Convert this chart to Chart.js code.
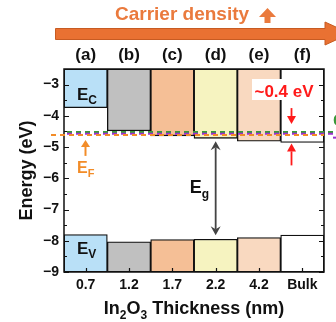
<!DOCTYPE html>
<html>
<head>
<meta charset="utf-8">
<script src="https://cdn.jsdelivr.net/npm/chart.js@4.4.1/dist/chart.umd.min.js"></script>
<style>
  html, body { margin: 0; padding: 0; background: #fff; }
  #wrap { width: 336px; height: 322px; }
</style>
</head>
<body>
<div id="wrap"><canvas id="band-chart" width="336" height="322"></canvas></div>
<script>
// Зонна діаграма In2O3 для різних товщин

const thickness = ['0.7', '1.2', '1.7', '2.2', '4.2', 'Bulk'];
const panelLabels = ['(a)', '(b)', '(c)', '(d)', '(e)', '(f)'];
const conductionMin = [-3.74, -4.48, -4.64, -4.72, -4.81, -4.85];
const valenceMax = [-7.80, -8.03, -7.96, -7.95, -7.90, -7.82];
const fermiLevel = -4.61;
const greenLevel = -4.52;
const purpleLevel = -4.57;
const energyMin = -9;
const energyMax = -2.5;
const barColors = ['#b9e0f7', '#c0c0c0', '#f5bf96', '#f6f3c0', '#f9d9c0', '#ffffff'];

const FONT = "'Liberation Sans', Arial, sans-serif";
const ORANGE = '#e97132';

// текст з нижніми індексами: parts = [[текст, isSub], ...]
function richText(ctx, parts, x, y, size, color, align) {
    const subSize = Math.round(size * 0.68);
    let total = 0;
    const widths = parts.map(([t, sub]) => {
        ctx.font = `bold ${sub ? subSize : size}px ${FONT}`;
        const w = ctx.measureText(t).width;
        total += w;
        return w;
    });
    let cx = align === 'center' ? x - total / 2 : x;
    ctx.fillStyle = color;
    ctx.textAlign = 'left';
    ctx.textBaseline = 'alphabetic';
    parts.forEach(([t, sub], i) => {
        ctx.font = `bold ${sub ? subSize : size}px ${FONT}`;
        ctx.fillText(t, cx, sub ? y + size * 0.28 : y);
        cx += widths[i];
    });
}

// вертикальна стрілка з заповненою головою
function vArrow(ctx, x, yTail, yTip, headLen, headW, stemW, color, notch) {
    const dir = yTip < yTail ? 1 : -1; // 1 = вгору
    const base = yTip + dir * headLen;
    const inner = yTip + dir * headLen * (notch ? 0.65 : 1);
    ctx.save();
    ctx.strokeStyle = color;
    ctx.fillStyle = color;
    ctx.lineWidth = stemW;
    ctx.beginPath();
    ctx.moveTo(x, yTail);
    ctx.lineTo(x, inner);
    ctx.stroke();
    ctx.beginPath();
    ctx.moveTo(x, yTip);
    ctx.lineTo(x - headW / 2, base);
    ctx.lineTo(x, inner);
    ctx.lineTo(x + headW / 2, base);
    ctx.closePath();
    ctx.fill();
    ctx.restore();
}

const decorPlugin = {
    id: 'decor',
    afterDatasetsDraw(chart) {
        const {ctx, chartArea: a, scales: {x, y}} = chart;
        ctx.save();

        // рамка і внутрішні поділки
        ctx.strokeStyle = '#111';
        ctx.lineWidth = 1.5;
        ctx.strokeRect(a.left, a.top, a.right - a.left, a.bottom - a.top);
        ctx.lineWidth = 1.2;
        for (let v = energyMin; v <= energyMax + 1e-6; v += 0.5) {
            const py = Math.round(y.getPixelForValue(v)) + 0.5;
            const len = Number.isInteger(v) ? 5 : 3;
            ctx.beginPath();
            ctx.moveTo(a.left, py); ctx.lineTo(a.left + len, py);
            ctx.moveTo(a.right, py); ctx.lineTo(a.right - len, py);
            ctx.stroke();
        }
        thickness.forEach((_, i) => {
            const px = Math.round(x.getPixelForValue(i)) + 0.5;
            ctx.beginPath();
            ctx.moveTo(px, a.bottom); ctx.lineTo(px, a.bottom - 4);
            ctx.stroke();
        });

        // пунктирні рівні
        const dashLine = (val, color, x0, x1, offset) => {
            ctx.save();
            ctx.strokeStyle = color;
            ctx.lineWidth = 2;
            ctx.setLineDash([5, 4]);
            ctx.lineDashOffset = offset;
            ctx.beginPath();
            ctx.moveTo(x0, y.getPixelForValue(val));
            ctx.lineTo(x1, y.getPixelForValue(val));
            ctx.stroke();
            ctx.restore();
        };
        dashLine(greenLevel, '#3a983a', a.left + 3, chart.width, 0);
        dashLine(purpleLevel, '#9b30d0', a.left + 3, chart.width, 0);
        dashLine(fermiLevel, '#f28c28', a.left - 13, a.right, 0);

        // обрізані підписи праворуч
        ctx.font = `bold 17px ${FONT}`;
        ctx.textAlign = 'left';
        ctx.fillStyle = '#3a983a';
        ctx.fillText('G', a.right + 9, y.getPixelForValue(greenLevel) - 6);
        ctx.fillStyle = '#9b30d0';
        ctx.fillRect(a.right + 9, y.getPixelForValue(purpleLevel) + 3, 4, 2);

        // E_C, E_V
        richText(ctx, [['E', 0], ['C', 1]], a.left + 13, y.getPixelForValue(conductionMin[0]) - 8, 17, '#111');
        richText(ctx, [['E', 0], ['V', 1]], a.left + 13, y.getPixelForValue(valenceMax[0]) + 19, 17, '#111');

        // E_F зі стрілкою
        const yF = y.getPixelForValue(fermiLevel);
        vArrow(ctx, a.left + 21.5, yF + 21, yF + 5, 7, 9, 2, '#f28c28', false);
        richText(ctx, [['E', 0], ['F', 1]], a.left + 13, yF + 38, 16, '#f28c28');

        // E_g стрілка для (d)
        const xd = x.getPixelForValue(3);
        const yTop = y.getPixelForValue(conductionMin[3]) + 3;
        const yBot = y.getPixelForValue(valenceMax[3]) - 4;
        vArrow(ctx, xd, yTop + 6, yTop, 9, 10, 1.8, '#444', true);
        vArrow(ctx, xd, yTop + 6, yBot, 9, 10, 1.8, '#444', true);
        richText(ctx, [['E', 0], ['g', 1]], xd - 26, (yTop + yBot) / 2 + 5, 18, '#111');

        // ~0.4 eV
        ctx.fillStyle = '#fff';
        ctx.fillRect(a.left + 188, a.top + 10, 64, 21);
        ctx.font = `bold 17px ${FONT}`;
        ctx.textAlign = 'center';
        ctx.fillStyle = '#ff1a1a';
        ctx.fillText('~0.4 eV', a.left + 220, a.top + 28);
        const xr = a.left + 227.5;
        const yG = y.getPixelForValue(greenLevel);
        vArrow(ctx, xr, yG - 24, yG - 8, 8, 9, 1.8, '#ff1a1a', false);
        const yFb = y.getPixelForValue(conductionMin[5]);
        vArrow(ctx, xr, yFb + 23, yFb + 1, 8, 9, 1.8, '#ff1a1a', false);

        // підписи панелей зверху
        ctx.font = `bold 17px ${FONT}`;
        ctx.fillStyle = '#111';
        ctx.textAlign = 'center';
        ctx.textBaseline = 'middle';
        panelLabels.forEach((t, i) => ctx.fillText(t, x.getPixelForValue(i), 55));

        // велика стрілка "Carrier density"
        ctx.fillStyle = ORANGE;
        ctx.strokeStyle = '#c75b22';
        ctx.lineWidth = 1;
        ctx.beginPath();
        ctx.moveTo(55.5, 28.5);
        ctx.lineTo(325, 28.5);
        ctx.lineTo(325, 22);
        ctx.lineTo(350, 33.5);
        ctx.lineTo(325, 45);
        ctx.lineTo(325, 39.5);
        ctx.lineTo(55.5, 39.5);
        ctx.closePath();
        ctx.fill();
        ctx.stroke();

        ctx.textAlign = 'left';
        ctx.textBaseline = 'alphabetic';
        ctx.font = `bold 19px ${FONT}`;
        ctx.fillStyle = '#ea7a3d';
        ctx.fillText('Carrier density', 115, 20);
        // маленька стрілка вгору після тексту
        ctx.beginPath();
        ctx.moveTo(267.5, 8);
        ctx.lineTo(276, 17);
        ctx.lineTo(270.5, 17);
        ctx.lineTo(270.5, 23);
        ctx.lineTo(264.5, 23);
        ctx.lineTo(264.5, 17);
        ctx.lineTo(259, 17);
        ctx.closePath();
        ctx.fill();

        // підпис осі X з індексами
        richText(ctx, [['In', 0], ['2', 1], ['O', 0], ['3', 1], [' Thickness (nm)', 0]],
            (a.left + a.right) / 2, 314, 18, '#111', 'center');

        ctx.restore();
    }
};

const tickFont = {family: FONT, size: 14, weight: 'bold'};

new Chart(document.getElementById('band-chart'), {
    type: 'bar',
    data: {
        labels: thickness,
        datasets: [
            {
                label: 'CB',
                data: conductionMin.map(v => [v, energyMax]),
                backgroundColor: barColors,
                borderColor: '#111',
                borderWidth: 1.3,
                borderSkipped: false,
                barPercentage: 1,
                categoryPercentage: 1,
            },
            {
                label: 'VB',
                data: valenceMax.map(v => [energyMin, v]),
                backgroundColor: barColors,
                borderColor: '#111',
                borderWidth: 1.3,
                borderSkipped: false,
                barPercentage: 1,
                categoryPercentage: 1,
            }
        ]
    },
    options: {
        responsive: false,
        animation: false,
        devicePixelRatio: 1,
        layout: {padding: {top: 69, right: 12, left: 0, bottom: 0}},
        plugins: {legend: {display: false}, tooltip: {enabled: false}},
        scales: {
            x: {
                stacked: true,
                grid: {display: false, drawTicks: false},
                border: {display: false},
                ticks: {color: '#111', font: tickFont, padding: 5},
                afterFit: s => { s.height = 50; }
            },
            y: {
                min: energyMin,
                max: energyMax,
                grid: {display: false, drawTicks: false},
                border: {display: false},
                ticks: {
                    stepSize: 1,
                    includeBounds: false,
                    color: '#111',
                    font: tickFont,
                    padding: 5,
                    callback: v => (v < 0 ? '\u2212' : '') + Math.abs(v)
                },
                title: {
                    display: true,
                    text: 'Energy (eV)',
                    color: '#111',
                    font: {family: FONT, size: 18, weight: 'bold'},
                    padding: {top: 16, bottom: 0}
                },
                afterFit: s => { s.width = 64; }
            }
        }
    },
    plugins: [decorPlugin]
});
</script>
</body>
</html>
